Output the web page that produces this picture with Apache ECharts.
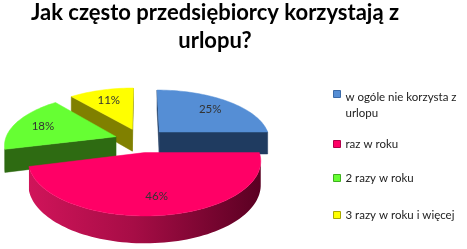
<!DOCTYPE html>
<html><head><meta charset="utf-8">
<script src="https://cdn.jsdelivr.net/npm/echarts@6/dist/echarts.min.js"></script>
<style>html,body{margin:0;padding:0;background:#fff}#c{width:467px;height:249px}</style>
</head><body><div id="c"></div>
<script>
const titleText = 'Jak często przedsiębiorcy korzystają z\nurlopu?';
const categories = ['w ogóle nie korzysta z urlopu', 'raz w roku', '2 razy w roku', '3 razy w roku i więcej'];
const legendLines = [['w ogóle nie korzysta z', 'urlopu'], ['raz w roku'], ['2 razy w roku'], ['3 razy w roku i więcej']];
const values = [25, 46, 18, 11];
const topColors = ['#558ED5', '#FF0066', '#66FF33', '#FFFF00'];
const sideColors = [['#1F3B60', '#1F3B60'], ['#D0145A', '#5A0022'], ['#2E6B12', '#2E6B12'], ['#808000', '#7A7A00']];
const legendBorders = ['#3A6AA8', '#B0004A', '#3FAF1F', '#A8A800'];

const G = {cx: 141, cy: 140.3, R: 111, k: 0.4526, p: 0.0013, H: 22.5, d: 26.5};
function proj(u, w, h) { const P = 1 / (1 + w * G.p); return [G.cx + u * P, G.cy - w * G.k * P + h * G.H * P]; }
function area(pts) { let s = 0; for (let i = 0; i < pts.length; i++) { const a = pts[i], b = pts[(i + 1) % pts.length]; s += a[0] * b[1] - b[0] * a[1]; } return s / 2; }

function makeRender(si) {
  return function (params, api) {
    const v = api.value(0);
    const total = values.reduce((a, b) => a + b, 0);
    let before = 0; for (let j = 0; j < si; j++) before += values[j];
    const a1 = before / total * 2 * Math.PI, a2 = (before + v) / total * 2 * Math.PI;
    const mid = (a1 + a2) / 2, au = G.d * Math.sin(mid), aw = G.d * Math.cos(mid);
    const rim = (t, h) => proj(au + G.R * Math.sin(t), aw + G.R * Math.cos(t), h);
    const apex = h => proj(au, aw, h);
    const N = Math.max(8, Math.ceil((a2 - a1) / (Math.PI / 90)));
    const ts = []; for (let i = 0; i <= N; i++) ts.push(a1 + (a2 - a1) * i / N);
    const base = (Math.round(-aw) + 200) * 3;
    const sc = sideColors[si];
    const grad = new echarts.graphic.LinearGradient(0, 0, 1, 0, [{offset: 0, color: sc[0]}, {offset: 0.45, color: echarts.color.lerp(0.35, [sc[0], sc[1]])}, {offset: 1, color: sc[1]}]);
    const children = [];
    const sf = [apex(0), rim(a1, 0), rim(a1, 1), apex(1)];
    if (area(sf) < 0) children.push({type: 'polygon', z2: base, shape: {points: sf}, style: {fill: sc[0], stroke: sc[0], lineWidth: 0.5}});
    const ef = [rim(a2, 0), apex(0), apex(1), rim(a2, 1)];
    if (area(ef) < 0) children.push({type: 'polygon', z2: base, shape: {points: ef}, style: {fill: sc[0], stroke: sc[0], lineWidth: 0.5}});
    let run = [];
    const flush = () => {
      if (run.length > 1) {
        const pts = run.map(t => rim(t, 0)).concat(run.slice().reverse().map(t => rim(t, 1)));
        children.push({type: 'polygon', z2: base, shape: {points: pts}, style: {fill: grad}});
      }
      run = [];
    };
    for (let i = 0; i < N; i++) {
      const q = [rim(ts[i], 0), rim(ts[i + 1], 0), rim(ts[i + 1], 1), rim(ts[i], 1)];
      if (area(q) < 0) { if (!run.length) run.push(ts[i]); run.push(ts[i + 1]); }
      else flush();
    }
    flush();
    const top = [apex(0)].concat(ts.map(t => rim(t, 0)));
    children.push({type: 'polygon', z2: base + 1, shape: {points: top}, style: {fill: topColors[si], stroke: topColors[si], lineWidth: 0.5}});
    const lr = 0.73 * G.R;
    const lp = proj(au + lr * Math.sin(mid), aw + lr * Math.cos(mid), 0);
    children.push({type: 'text', z2: 5000, x: lp[0], y: lp[1], style: {text: v + '%', fill: '#333', font: '11.5px Lato', textAlign: 'center', textVerticalAlign: 'middle', align: 'center', verticalAlign: 'middle'}});
    return {type: 'group', children: children};
  };
}

const legendTops = [67, 138, 172, 209];
const chart = echarts.init(document.getElementById('c'));
chart.setOption({
  animation: false,
  title: {text: titleText, left: 215, top: -1, textAlign: 'center', padding: 0,
    textStyle: {fontFamily: 'Lato', fontWeight: 'bold', fontSize: 22, lineHeight: 28, color: '#000'}},
  legend: categories.map((name, i) => ({
    orient: 'vertical', left: 333, top: legendTops[i], padding: 0, itemWidth: 7, itemHeight: 7, icon: 'rect',
    selectedMode: false,
    formatter: () => (legendLines[i].length > 1 ? '{e| }\n' : '') + legendLines[i].map(s => '{t|' + s + '}').join('\n'),
    textStyle: {fontFamily: 'Lato', fontSize: 11.5, color: '#222',
      rich: {e: {fontSize: 11.5, height: 22, lineHeight: 22}, t: {fontFamily: 'Lato', fontSize: 11.5, lineHeight: 16, color: '#222'}}},
    data: [{name: name, itemStyle: {color: topColors[i], borderColor: legendBorders[i], borderWidth: 1}}]
  })),
  series: categories.map((name, i) => ({
    type: 'custom', name: name, coordinateSystem: 'none', itemStyle: {color: topColors[i]},
    data: [values[i]], renderItem: makeRender(i)
  }))
});
</script></body></html>
